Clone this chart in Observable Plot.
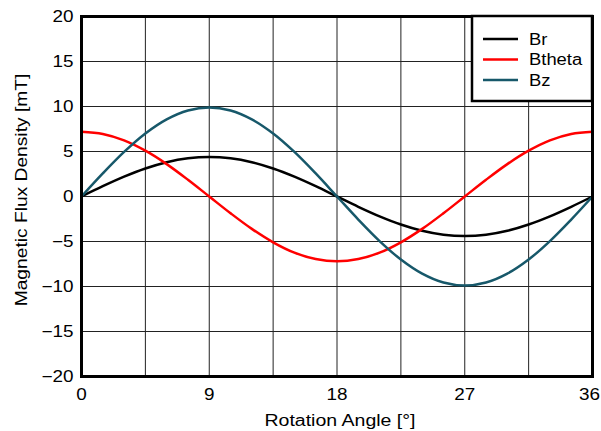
<!DOCTYPE html>
<html><head><meta charset="utf-8">
<script src="https://cdn.jsdelivr.net/npm/d3@7"></script>
<script src="https://cdn.jsdelivr.net/npm/@observablehq/plot@0.6"></script>
<style>body{margin:0;background:#fff} #chart{width:601px;height:431px}</style>
</head><body><div id="chart"></div>
<script>
const angles = [0,1.5,3,4.5,6,7.5,9,10.5,12,13.5,15,16.5,18,19.5,21,22.5,24,25.5,27,28.5,30,31.5,33,34.5,36];
const br = [0,1.14,2.2,3.11,3.81,4.25,4.4,4.25,3.81,3.11,2.2,1.14,0,-1.14,-2.2,-3.11,-3.81,-4.25,-4.4,-4.25,-3.81,-3.11,-2.2,-1.14,0];
const btheta = [7.2,6.95,6.24,5.09,3.6,1.86,0,-1.86,-3.6,-5.09,-6.24,-6.95,-7.2,-6.95,-6.24,-5.09,-3.6,-1.86,0,1.86,3.6,5.09,6.24,6.95,7.2];
const bz = [0,2.56,4.95,7.0,8.57,9.56,9.9,9.56,8.57,7.0,4.95,2.56,0,-2.56,-4.95,-7.0,-8.57,-9.56,-9.9,-9.56,-8.57,-7.0,-4.95,-2.56,0];
const seriesNames = ["Br","Btheta","Bz"];
const seriesColors = ["#000000","#ff0000","#17586a"];
const xTicks = [0,9,18,27,36];
const xGrid = [4.5,9,13.5,18,22.5,27,31.5];
const yTicks = [-20,-15,-10,-5,0,5,10,15,20];
const xLabel = "Rotation Angle [°]";
const yLabel = "Magnetic Flux Density [mT]";

const seriesValues = [br, btheta, bz];
const rows = seriesNames.flatMap((s, i) => angles.map((a, j) => ({series: s, angle: a, value: seriesValues[i][j]})));

const W = 601, H = 431;
const ff = "'Liberation Sans', Arial, sans-serif";
const plot = Plot.plot({
  width: W, height: H,
  marginLeft: 81, marginRight: 9, marginTop: 16, marginBottom: 55,
  style: {fontFamily: ff, fontSize: "16px", background: "white", color: "black", overflow: "visible"},
  x: {domain: [0, 36]},
  y: {domain: [-20, 20]},
  color: {domain: seriesNames, range: seriesColors},
  marks: [
    Plot.gridX(xGrid, {stroke: "#222", strokeOpacity: 1, strokeWidth: 1}),
    Plot.gridY(yTicks, {stroke: "#222", strokeOpacity: 1, strokeWidth: 1}),
    Plot.line(rows, {x: "angle", y: "value", z: "series", stroke: "series", strokeWidth: 2.5, curve: "catmull-rom"}),
    Plot.frame({stroke: "#000", strokeWidth: 3}),
    Plot.axisX(xTicks, {tickSize: 0, tickPadding: 12, fontSize: 16, label: null}),
    Plot.axisY(yTicks, {tickSize: 0, tickPadding: 8, fontSize: 16, label: null})
  ]
});
document.getElementById("chart").appendChild(plot);

const svg = d3.select(plot);
// widen glyphs to match the reference's wide sans rendering
function stretch(sel, k) {
  sel.each(function () {
    const n = this.getComputedTextLength();
    if (n > 0) d3.select(this).attr("textLength", n * k).attr("lengthAdjust", "spacingAndGlyphs");
  });
}
stretch(svg.selectAll("g[aria-label='x-axis tick label'] text, g[aria-label='y-axis tick label'] text"), 1.18);
// keep the last x tick label inside the canvas
const xtl = svg.selectAll("g[aria-label='x-axis tick label'] text").nodes();
if (xtl.length) d3.select(xtl[xtl.length - 1]).attr("dx", -3);

// axis titles
const xt = svg.append("text").attr("x", 340).attr("y", 426).attr("text-anchor", "middle")
  .attr("font-family", ff).attr("font-size", 16).attr("fill", "black").text(xLabel);
const yt = svg.append("text").attr("transform", "translate(27,190) rotate(-90)").attr("text-anchor", "middle")
  .attr("font-family", ff).attr("font-size", 16).attr("fill", "black").text(yLabel);
stretch(xt, 1.22);
stretch(yt, 1.2);

// legend box in top-right corner of plot area
const bx = W - 9 - 120, by = 16, bw = 120, bh = 85;
const g = svg.append("g").attr("text-anchor", "start");
g.append("rect").attr("x", bx).attr("y", by).attr("width", bw).attr("height", bh)
  .attr("fill", "white").attr("stroke", "black").attr("stroke-width", 2.5);
seriesNames.forEach((s, i) => {
  const yy = by + 23 + i * 20.5;
  g.append("line").attr("x1", bx + 11).attr("x2", bx + 46).attr("y1", yy).attr("y2", yy)
    .attr("stroke", seriesColors[i]).attr("stroke-width", 2.5);
  const t = g.append("text").attr("x", bx + 57).attr("y", yy).attr("dy", "0.35em").attr("text-anchor", "start")
    .attr("font-family", ff).attr("font-size", 16).attr("fill", "black").text(s);
  stretch(t, 1.15);
});
</script>
</body></html>
